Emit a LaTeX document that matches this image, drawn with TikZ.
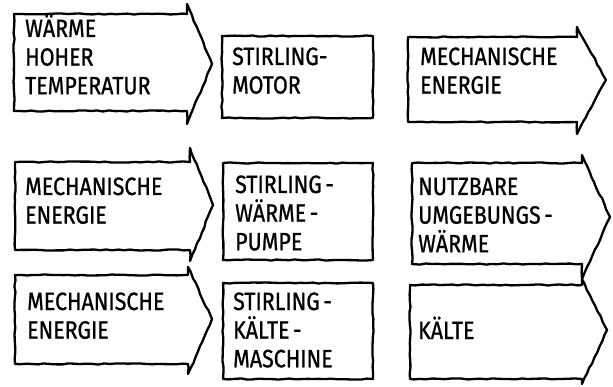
\documentclass[tikz,border=0pt]{standalone}
\usepackage{fontspec}
\newfontfamily\hand{Fira Sans}[FakeBold=1.0]
\usetikzlibrary{decorations.pathmorphing}
% stacked lines with the baseline of the first line, stretched a little upward
\newcommand\tlines[1]{\scalebox{1.07}[1.25]{\vtop{\baselineskip=22.9pt\lineskip=0pt\lineskiplimit=-60pt #1}}}
\begin{document}
\begin{tikzpicture}[x=1pt,y=-1pt,
  sketch/.style={draw=black, line width=2.3pt, line join=round, line cap=round,
    decoration={random steps, segment length=6pt, amplitude=0.6pt}, decorate},
  label/.style={anchor=base west, inner sep=0pt, font=\hand\fontsize{20}{24}\selectfont}]
\pgfmathsetseed{11}
\useasboundingbox (0,0) rectangle (613,387);

% input arrows (left column)
\draw[sketch] (14,14) -- (187,14) -- (187,4) -- (212,64) -- (187,124) -- (187,111) -- (14,111) -- cycle;
\draw[sketch] (15,162) -- (190,162) -- (190,148) -- (213,205) -- (190,261) -- (190,250) -- (15,250) -- cycle;
\draw[sketch] (15,275) -- (188,275) -- (188,267) -- (212,319) -- (188,374) -- (188,364) -- (15,364) -- cycle;

% machines (middle column)
\draw[sketch] (222,36) -- (373,36) -- (373,118) -- (222,118) -- cycle;
\draw[sketch] (223,163) -- (373,163) -- (373,260) -- (223,260) -- cycle;
\draw[sketch] (223,283) -- (373,283) -- (373,379) -- (223,379) -- cycle;

% output arrows (right column)
\draw[sketch] (408,37) -- (577,37) -- (577,27) -- (606,80) -- (577,134) -- (577,122) -- (408,122) -- cycle;
\draw[sketch] (412,163) -- (582,163) -- (582,155) -- (610,217) -- (582,279) -- (582,264) -- (412,264) -- cycle;
\draw[sketch] (410,285) -- (582,285) -- (582,279) -- (607,330) -- (582,384) -- (582,379) -- (410,379) -- cycle;

% texts
\node[label] (in1) at (25,37) {\tlines{\hbox{WÄRME}\hbox{HOHER}\hbox{TEMPERATUR}}};
\node[label] (m1) at (232,65) {\tlines{\hbox{STIRLING-}\hbox{MOTOR}}};
\node[label] (out1) at (420,65) {\tlines{\hbox{MECHANISCHE}\hbox{ENERGIE}}};

\node[label] (in2) at (25,195) {\tlines{\hbox{MECHANISCHE}\hbox{ENERGIE}}};
\node[label] (m2) at (235,193) {\tlines{\hbox{STIRLING\,-}\hbox{WÄRME\,-}\hbox{PUMPE}}};
\node[label] (out2) at (418,195) {\tlines{\hbox{NUTZBARE}\hbox{UMGEBUNGS\,-}\hbox{WÄRME}}};

\node[label] (in3) at (27,310) {\tlines{\hbox{MECHANISCHE}\hbox{ENERGIE}}};
\node[label] (m3) at (233,310) {\tlines{\hbox{STIRLING\,-}\hbox{KÄLTE\,-}\hbox{MASCHINE}}};
\node[label] (out3) at (418,339) {\tlines{\hbox{KÄLTE}}};
\end{tikzpicture}
\end{document}
